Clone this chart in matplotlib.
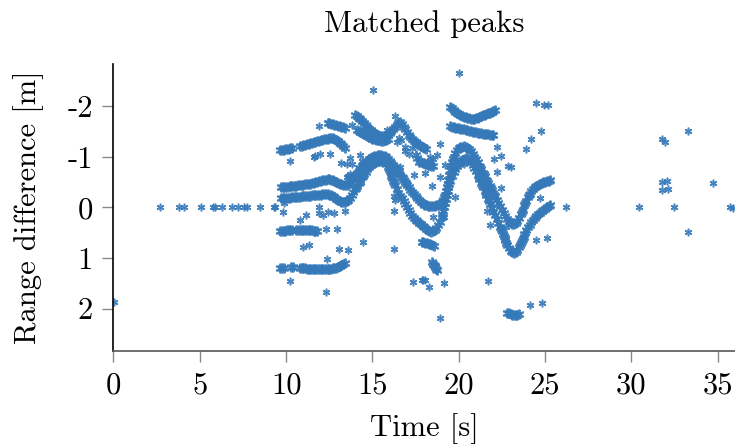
import matplotlib
matplotlib.use("Agg")
import matplotlib.pyplot as plt

# ---------------- data ----------------
# Main upper band (A)
a_x = [9.7,9.8,9.9,10.0,10.1,10.2,10.3,10.4,10.5,10.6,10.7,10.8,10.9,11.0,11.1,11.2,11.3,11.4,11.5,11.6,
       11.7,11.8,11.9,12.0,12.1,12.2,12.3,12.4,12.5,12.6,12.7,12.8,12.9,13.0,13.1,13.2,13.3,13.4,13.5,13.6,
       13.7,13.8,13.9,14.0,14.1,14.2,14.3,14.4,14.5,14.6,14.7,14.8,14.9,15.0,15.1,15.2,15.3,15.4,15.5,15.6,
       15.7,15.8,15.9,16.0,16.1,16.2,16.3,16.4,16.5,16.6,16.7,16.8,16.9,17.0,17.1,17.2,17.3,17.4,17.5,17.6,
       17.7,17.8,17.9,18.0,18.1,18.2,18.3,18.4,18.5,18.6,18.7,18.8,18.9,19.0,19.1,19.2,19.3,19.4,19.5,19.6,
       19.7,19.8,19.9,20.0,20.1,20.2,20.3,20.4,20.5,20.6,20.7,20.8,20.9,21.0,21.1,21.2,21.3,21.4,21.5,21.6,
       21.7,21.8,21.9,22.0,22.1,22.2,22.3,22.4,22.5,22.6,22.7,22.8,22.9,23.0,23.1,23.2,23.3,23.4,23.5,23.6,
       23.7,23.8,23.9,24.0,24.1,24.2,24.3,24.4,24.5,24.6,24.7,24.8,24.9,25.0,25.1,25.2,25.3,
       19.15,19.25,19.35,19.45,19.55,19.65,21.25,21.45,21.65,21.85,22.05,23.65,23.85,24.05,
       14.25,14.45,16.35,16.55,16.75,16.95]
a_y = [-0.40,-0.40,-0.41,-0.41,-0.41,-0.42,-0.42,-0.43,-0.43,-0.43,-0.44,-0.44,-0.45,-0.45,-0.46,-0.46,-0.47,-0.47,-0.48,-0.49,
       -0.50,-0.51,-0.52,-0.53,-0.54,-0.55,-0.55,-0.56,-0.56,-0.55,-0.54,-0.53,-0.51,-0.49,-0.47,-0.46,-0.45,-0.44,-0.45,-0.47,
       -0.50,-0.54,-0.59,-0.64,-0.68,-0.73,-0.78,-0.83,-0.87,-0.90,-0.93,-0.96,-0.98,-1.00,-1.01,-1.02,-1.03,-1.03,-1.03,-1.02,
       -1.01,-0.99,-0.96,-0.93,-0.89,-0.85,-0.80,-0.75,-0.70,-0.65,-0.60,-0.55,-0.50,-0.45,-0.40,-0.35,-0.30,-0.26,-0.22,-0.18,
       -0.14,-0.11,-0.08,-0.05,-0.04,-0.03,-0.03,-0.03,-0.03,-0.03,-0.04,-0.05,-0.07,-0.10,-0.15,-0.25,-0.40,-0.55,-0.75,-0.90,
       -1.00,-1.08,-1.13,-1.17,-1.19,-1.20,-1.21,-1.20,-1.18,-1.15,-1.11,-1.06,-1.00,-0.95,-0.90,-0.83,-0.76,-0.69,-0.62,-0.55,
       -0.48,-0.42,-0.35,-0.28,-0.22,-0.15,-0.08,-0.02,0.05,0.11,0.17,0.22,0.27,0.30,0.32,0.32,0.30,0.26,0.20,0.12,
       0.04,-0.04,-0.12,-0.20,-0.27,-0.33,-0.37,-0.40,-0.43,-0.45,-0.47,-0.48,-0.50,-0.51,-0.52,-0.53,-0.54,
       -0.20,-0.32,-0.47,-0.65,-0.83,-0.95,-0.80,-0.66,-0.52,-0.38,-0.25,0.08,-0.08,-0.24,
       -0.76,-0.85,-0.78,-0.68,-0.58,-0.48]

# Main lower band (B)
b_x = [9.7,9.8,9.9,10.0,10.1,10.2,10.3,10.4,10.5,10.6,10.7,10.8,10.9,11.0,11.1,11.2,11.3,11.4,11.5,11.6,
       11.7,11.8,11.9,12.0,12.1,12.2,12.3,12.4,12.5,12.6,12.7,12.8,12.9,13.0,13.1,13.2,13.3,13.4,13.5,13.6,
       13.7,13.8,13.9,14.0,14.1,14.2,14.3,14.4,14.5,14.6,14.7,14.8,14.9,15.0,15.1,15.2,15.3,15.4,15.5,15.6,
       15.7,15.8,15.9,16.0,16.1,16.2,16.3,16.4,16.5,16.6,16.7,16.8,16.9,17.0,17.1,17.2,17.3,17.4,17.5,17.6,
       17.7,17.8,17.9,18.0,18.1,18.2,18.3,18.4,18.5,18.6,18.7,18.8,18.9,19.0,19.1,19.2,19.3,19.4,19.5,19.6,
       19.7,19.8,19.9,20.0,20.1,20.2,20.3,20.4,20.5,20.6,20.7,20.8,20.9,21.0,21.1,21.2,21.3,21.4,21.5,21.6,
       21.7,21.8,21.9,22.0,22.1,22.2,22.3,22.4,22.5,22.6,22.7,22.8,22.9,23.0,23.1,23.2,23.3,23.4,23.5,23.6,
       23.7,23.8,23.9,24.0,24.1,24.2,24.3,24.4,24.5,24.6,24.7,24.8,24.9,25.0,25.1,25.2,25.3,
       15.95,16.05,16.15,16.25,19.05,19.15,19.25,19.35,19.45,22.45,22.55,22.65,22.75,23.55,23.65,23.75,
       14.05,14.25,14.45,21.15,21.35,21.55,21.75]
b_y = [-0.18,-0.18,-0.18,-0.19,-0.19,-0.19,-0.20,-0.20,-0.20,-0.21,-0.21,-0.21,-0.22,-0.22,-0.22,-0.23,-0.23,-0.23,-0.24,-0.24,
       -0.24,-0.25,-0.25,-0.25,-0.26,-0.26,-0.26,-0.26,-0.25,-0.24,-0.22,-0.20,-0.17,-0.14,-0.12,-0.11,-0.10,-0.10,-0.12,-0.15,
       -0.19,-0.24,-0.30,-0.36,-0.42,-0.48,-0.54,-0.60,-0.66,-0.71,-0.76,-0.80,-0.84,-0.87,-0.89,-0.91,-0.92,-0.93,-0.93,-0.92,
       -0.90,-0.86,-0.80,-0.72,-0.63,-0.53,-0.44,-0.36,-0.29,-0.23,-0.18,-0.12,-0.06,-0.01,0.05,0.11,0.16,0.20,0.24,0.27,
       0.30,0.33,0.36,0.39,0.42,0.45,0.47,0.48,0.47,0.44,0.40,0.35,0.28,0.18,0.06,-0.08,-0.24,-0.40,-0.53,-0.63,
       -0.71,-0.77,-0.82,-0.87,-0.91,-0.94,-0.96,-0.97,-0.96,-0.94,-0.90,-0.85,-0.79,-0.72,-0.65,-0.57,-0.49,-0.41,-0.33,-0.25,
       -0.16,-0.07,0.01,0.08,0.15,0.22,0.30,0.38,0.47,0.56,0.65,0.74,0.81,0.86,0.89,0.90,0.88,0.84,0.78,0.71,
       0.62,0.53,0.45,0.39,0.34,0.29,0.25,0.20,0.16,0.13,0.10,0.07,0.04,0.02,-0.01,-0.03,-0.05,
       -0.76,-0.68,-0.58,-0.49,0.12,-0.01,-0.16,-0.32,-0.47,0.42,0.52,0.61,0.70,0.75,0.67,0.58,
       -0.39,-0.51,-0.63,-0.61,-0.45,-0.29,-0.12]

# Upper-left band (C)
c_x = [9.65,9.75,9.85,9.95,10.05,10.15,10.25,10.35,10.8,10.9,11.0,11.1,11.2,11.3,11.4,11.5,11.6,11.7,11.8,11.9,
       12.0,12.1,12.2,12.3,12.4,12.5,12.6,12.7,12.8,12.9,13.0,13.1,13.2,13.3,13.4]
c_y = [-1.13,-1.14,-1.14,-1.15,-1.15,-1.16,-1.17,-1.17,-1.21,-1.22,-1.23,-1.24,-1.25,-1.26,-1.27,-1.28,-1.29,-1.30,-1.31,-1.32,
       -1.33,-1.34,-1.35,-1.36,-1.36,-1.37,-1.37,-1.37,-1.35,-1.33,-1.31,-1.28,-1.25,-1.21,-1.18]

# Top-left short band (D)
d_x = [12.4,12.5,12.6,12.7,12.8,12.9,13.0,13.1,13.2,13.3,13.4]
d_y = [-1.67,-1.67,-1.66,-1.65,-1.64,-1.63,-1.62,-1.61,-1.60,-1.59,-1.58]

# Crossing band around 14-18 s (E)
e_x = [14.0,14.1,14.2,14.3,14.4,14.5,14.6,14.7,14.8,14.9,15.0,15.1,15.2,15.3,15.4,15.5,15.6,15.7,15.8,15.9,
       16.0,16.1,16.2,16.3,16.4,16.5,16.6,16.7,16.8,16.9,17.0,17.1,17.2,17.3,17.4,17.5,17.6,17.7,17.8,17.9,
       18.0,18.1]
e_y = [-1.84,-1.81,-1.78,-1.75,-1.71,-1.67,-1.63,-1.59,-1.56,-1.53,-1.50,-1.48,-1.46,-1.44,-1.42,-1.41,-1.41,-1.41,-1.42,-1.44,
       -1.47,-1.51,-1.55,-1.60,-1.64,-1.67,-1.69,-1.65,-1.60,-1.55,-1.49,-1.44,-1.40,-1.36,-1.32,-1.29,-1.26,-1.23,-1.21,-1.19,
       -1.17,-1.16]

# Lower branch of the crossing (F)
f_x = [14.1,14.2,14.3,14.4,14.5,14.6,14.7,14.8,14.9,15.0,15.1,15.2,15.3,15.4,15.5,15.6,15.7,15.8,15.9]
f_y = [-1.53,-1.51,-1.49,-1.47,-1.45,-1.43,-1.41,-1.39,-1.38,-1.36,-1.35,-1.34,-1.33,-1.33,-1.32,-1.32,-1.33,-1.34,-1.36]

# Upper-right "V" band (G)
g_x = [19.5,19.6,19.7,19.8,19.9,20.0,20.1,20.2,20.3,20.4,20.5,20.6,20.7,20.8,20.9,21.0,21.1,21.2,21.3,21.4,
       21.5,21.6,21.7,21.8,21.9,22.0,22.1]
g_y = [-1.99,-1.96,-1.93,-1.90,-1.88,-1.86,-1.84,-1.82,-1.80,-1.79,-1.78,-1.77,-1.76,-1.76,-1.76,-1.77,-1.78,-1.80,-1.81,-1.83,
       -1.84,-1.85,-1.87,-1.88,-1.89,-1.91,-1.92]

# Band below it (H)
h_x = [19.5,19.6,19.7,19.8,19.9,20.0,20.1,20.2,20.3,20.4,20.5,20.6,20.7,20.8,20.9,21.0,21.1,21.2,21.3,21.4,
       21.5,21.6,21.7,21.8,21.9,22.0]
h_y = [-1.61,-1.60,-1.59,-1.58,-1.57,-1.57,-1.56,-1.55,-1.55,-1.54,-1.53,-1.52,-1.51,-1.50,-1.50,-1.49,-1.48,-1.48,-1.47,-1.46,
       -1.46,-1.45,-1.45,-1.44,-1.44,-1.43]

# Band at about +0.45 m (I)
i_x = [9.65,9.75,9.85,9.95,10.05,10.15,10.25,10.35,10.6,10.7,10.8,10.9,11.0,11.1,11.2,11.3,11.4,11.5,11.6,11.7,11.8]
i_y = [0.46,0.46,0.46,0.46,0.45,0.45,0.45,0.45,0.44,0.44,0.44,0.44,0.45,0.45,0.45,0.45,0.45,0.45,0.46,0.46,0.46]

# Band at about +1.2 m (J)
j_x = [9.65,9.75,9.85,10.3,10.4,10.8,10.9,11.0,11.1,11.2,11.3,11.4,11.5,11.6,11.7,11.8,11.9,12.0,12.1,12.2,
       12.3,12.4,12.5,12.6,12.7,12.8,12.9,13.0,13.1,13.2,13.3,13.4]
j_y = [1.19,1.19,1.19,1.17,1.17,1.19,1.19,1.20,1.20,1.21,1.21,1.21,1.22,1.22,1.22,1.22,1.22,1.22,1.22,1.22,
       1.22,1.21,1.21,1.21,1.20,1.20,1.19,1.17,1.16,1.14,1.12,1.10]

# Short segments and clusters
k_x = [17.5,17.6,17.7,17.8,17.9,18.0,18.1,18.2,18.3,18.4,18.5]
k_y = [-1.03,-0.98,-0.91,-0.90,-0.89,-0.88,-0.86,-0.85,-0.84,-0.83,-0.82]
l_x = [17.88,17.95,18.05,18.15,18.25,18.35,18.45,18.55]
l_y = [0.68,0.69,0.70,0.71,0.72,0.73,0.74,0.76]
m_x = [18.45,18.5,18.55,18.6,18.65,18.7,18.75]
m_y = [1.08,1.11,1.13,1.16,1.18,1.21,1.23]
n_x = [22.8,22.9,23.0,23.1,23.2,23.3,23.4,23.5]
n_y = [2.08,2.09,2.11,2.12,2.13,2.13,2.12,2.11]

# Isolated detections
s_x = [0.05,2.70,3.82,4.11,5.06,5.79,5.89,6.27,6.85,7.24,7.57,7.72,8.50,9.31,9.37,9.85,9.81,
       11.88,10.24,11.59,11.69,11.98,12.56,13.18,13.50,13.56,10.82,11.17,11.88,11.88,12.13,12.40,12.75,13.39,
       12.33,12.95,10.95,11.30,13.04,13.56,12.37,10.24,12.29,
       15.01,20.00,16.33,13.82,15.85,16.52,16.68,18.94,16.90,17.10,17.30,18.75,18.36,18.36,19.23,18.07,17.39,
       16.62,18.94,18.46,19.80,16.23,16.23,14.45,16.23,18.51,19.13,17.88,17.95,18.03,17.33,18.30,19.17,18.94,
       21.72,24.12,24.80,21.80,21.65,22.71,23.87,24.45,25.09,24.70,26.19,23.87,24.16,24.74,24.50,24.93,25.16,
       22.23,22.42,22.03,22.23,22.88,23.00,22.42,20.29,20.45,13.72,13.82,14.26,14.40,13.72,13.53,18.51,
       16.43,16.90,30.46,31.76,31.95,33.27,31.76,32.05,31.76,32.12,32.47,34.70,33.27,35.70,35.86,16.33]
s_y = [1.87,0.0,0.0,0.0,0.0,0.0,0.0,0.0,0.0,0.0,0.0,0.0,0.0,0.0,0.0,-0.08,0.08,
       -1.61,-0.92,-1.00,-1.02,-1.05,-1.05,-0.88,-0.86,-0.62,0.24,0.15,-0.01,0.11,0.15,0.09,0.11,0.07,
       0.43,0.43,0.79,0.75,0.83,0.84,1.02,1.46,1.68,
       -2.33,-2.66,-1.81,-1.63,-1.53,-1.38,-1.33,-1.25,-1.12,-1.05,-1.17,-1.03,-1.00,-0.93,-0.84,-0.68,-0.64,
       -0.80,-0.60,-0.42,-0.21,-0.22,0.07,0.69,0.82,0.19,0.19,1.43,1.43,1.44,1.47,1.58,1.49,2.18,
       1.46,1.93,1.90,0.35,0.07,0.38,0.51,0.65,0.60,-0.19,0.0,-1.15,-1.35,-1.51,-2.07,-2.02,-2.02,
       -1.19,-1.01,-0.95,-0.70,-0.82,-0.80,-0.38,-0.87,-0.92,-0.97,-0.87,-1.03,-0.93,-0.67,-0.60,-0.95,
       -1.30,-1.20,0.0,-1.36,-1.29,-1.52,-0.51,-0.52,-0.34,-0.36,-0.01,-0.48,0.49,0.0,0.01,-0.14]

y_ticks = [-2, -1, 0, 1, 2]
y_tick_labels = ["-2", "-1", "0", "1", "2"]
x_ticks = [0, 5, 10, 15, 20, 25, 30, 35]
x_tick_labels = ["0", "5", "10", "15", "20", "25", "30", "35"]

# ---------------- figure ----------------
plt.rcParams['font.family'] = ['cmr10', 'DejaVu Serif']
plt.rcParams['mathtext.fontset'] = 'cm'
plt.rcParams['axes.unicode_minus'] = False

fig = plt.figure(figsize=(7.35, 4.47), dpi=100)
ax = fig.add_axes([0.1544, 0.2148, 0.8456, 0.642])

color = '#3579b9'
bands = [(a_x, a_y), (b_x, b_y), (c_x, c_y), (d_x, d_y), (e_x, e_y), (f_x, f_y),
         (g_x, g_y), (h_x, h_y), (i_x, i_y), (j_x, j_y), (k_x, k_y), (l_x, l_y),
         (m_x, m_y), (n_x, n_y)]
for gx, gy in bands:
    ax.plot(gx, gy, linestyle='none', marker=(6, 2, 0), markersize=7,
            markeredgewidth=1.4, color=color, markeredgecolor=color, alpha=0.9)
ax.plot(s_x, s_y, linestyle='none', marker=(6, 2, 0), markersize=5.5,
        markeredgewidth=1.1, color=color, markeredgecolor=color, alpha=0.9)

ax.set_xlim(0, 36)
ax.set_ylim(2.84, -2.84)
ax.set_xticks(x_ticks)
ax.set_xticklabels(x_tick_labels)
ax.set_yticks(y_ticks)
ax.set_yticklabels(y_tick_labels)

for side in ('top', 'right'):
    ax.spines[side].set_visible(False)
ax.spines['left'].set_color('black')
ax.spines['left'].set_linewidth(1.2)
ax.spines['bottom'].set_color('#555555')
ax.spines['bottom'].set_linewidth(1.2)
ax.tick_params(axis='both', direction='out', length=8, width=1.0, color='#888888',
               labelsize=22, pad=7)

ax.set_title('Matched peaks', fontsize=22, pad=23)
ax.set_xlabel('Time [s]', fontsize=22, labelpad=10)
ax.set_ylabel('Range difference [m]', fontsize=22, labelpad=17)

fig.savefig('out.png', dpi=100)
